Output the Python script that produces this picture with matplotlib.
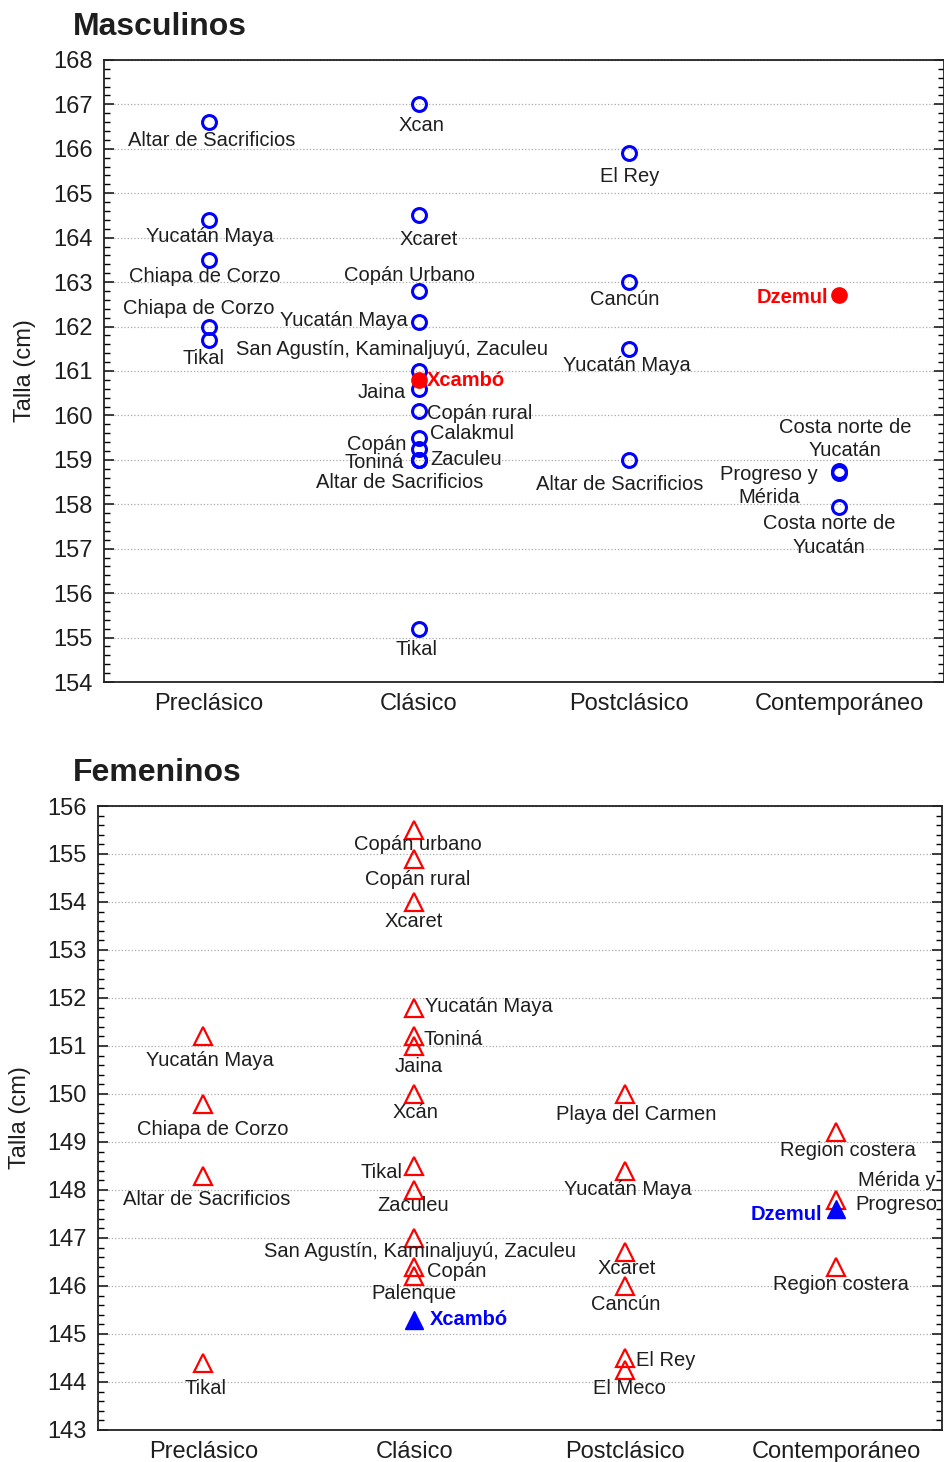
import matplotlib
matplotlib.use("Agg")
import matplotlib.pyplot as plt
from matplotlib.ticker import MultipleLocator

plt.rcParams['font.family'] = ['Liberation Sans', 'DejaVu Sans']

periodos = ["Preclásico", "Clásico", "Postclásico", "Contemporáneo"]

# Masculinos
masc_periodo = ["Preclásico"] * 5 + ["Clásico"] * 13 + ["Postclásico"] * 4 + ["Contemporáneo"] * 3
masc_talla = [166.6, 164.4, 163.5, 162.0, 161.7,
              167.0, 164.5, 162.8, 162.1, 161.0, 160.6, 160.1, 159.5, 159.25, 159.0, 159.0, 159.0, 155.2,
              165.9, 163.0, 161.5, 159.0,
              158.75, 158.7, 157.95]
masc_sitio = ["Altar de Sacrificios", "Yucatán Maya", "Chiapa de Corzo", "Chiapa de Corzo", "Tikal",
              "Xcan", "Xcaret", "Copán Urbano", "Yucatán Maya", "San Agustín, Kaminaljuyú, Zaculeu",
              "Jaina", "Copán rural", "Calakmul", "Copán", "Toniná", "Zaculeu", "Altar de Sacrificios", "Tikal",
              "El Rey", "Cancún", "Yucatán Maya", "Altar de Sacrificios",
              "Costa norte de\nYucatán", "Progreso y\nMérida", "Costa norte de\nYucatán"]
masc_foco_periodo = ["Clásico", "Contemporáneo"]
masc_foco_talla = [160.8, 162.7]
masc_foco_sitio = ["Xcambó", "Dzemul"]

# Femeninos
fem_periodo = ["Preclásico"] * 4 + ["Clásico"] * 12 + ["Postclásico"] * 6 + ["Contemporáneo"] * 3
fem_talla = [151.2, 149.8, 148.3, 144.4,
             155.5, 154.9, 154.0, 151.8, 151.2, 151.0, 150.0, 148.5, 148.0, 147.0, 146.4, 146.2,
             150.0, 148.4, 146.7, 146.0, 144.5, 144.25,
             149.2, 147.8, 146.4]
fem_sitio = ["Yucatán Maya", "Chiapa de Corzo", "Altar de Sacrificios", "Tikal",
             "Copán urbano", "Copán rural", "Xcaret", "Yucatán Maya", "Toniná", "Jaina", "Xcán",
             "Tikal", "Zaculeu", "San Agustín, Kaminaljuyú, Zaculeu", "Copán", "Palenque",
             "Playa del Carmen", "Yucatán Maya", "Xcaret", "Cancún", "El Rey", "El Meco",
             "Region costera", "Mérida y\nProgreso", "Region costera"]
fem_foco_periodo = ["Clásico", "Contemporáneo"]
fem_foco_talla = [145.3, 147.6]
fem_foco_sitio = ["Xcambó", "Dzemul"]

# label placement (pixel offsets from marker, alignment)
masc_lbl = [(3, 18, "center"), (1, 17, "center"), (-4, 17, "center"), (-10, -18, "center"), (-5, 19, "center"),
            (2, 21, "center"), (10, 24, "center"), (-9, -16, "center"), (-11, -2, "right"), (-27, -21, "center"),
            (-13, 4, "right"), (8, 3, "left"), (11, -4, "left"), (-13, -4, "right"), (-15, 3, "right"),
            (11, 0, "left"), (-19, 23, "center"), (-2, 21, "center"),
            (1, 23, "center"), (-4, 17, "center"), (-2, 17, "center"), (-9, 25, "center"),
            (6, -32, "center"), (-70, 13, "center"), (-10, 29, "center")]
masc_foco_lbl = [(8, 1, "left"), (-11, 2, "right")]
fem_lbl = [(6, 24, "center"), (9, 26, "center"), (3, 24, "center"), (2, 26, "center"),
           (3, 15, "center"), (3, 21, "center"), (-1, 20, "center"), (11, -1, "left"), (9, 3, "left"),
           (4, 21, "center"), (1, 19, "center"), (-12, 7, "right"), (-1, 16, "center"), (6, 14, "center"),
           (13, 5, "left"), (-1, 17, "center"),
           (11, 21, "center"), (2, 19, "center"), (1, 16, "center"), (0, 19, "center"), (11, 3, "left"),
           (4, 19, "center"),
           (12, 18, "center"), (19, -7, "left"), (5, 18, "center")]
fem_foco_lbl = [(15, 0, "left"), (-14, 5, "right")]

TXT = "#1e1e1e"
PX = 0.72  # points per pixel at 100 dpi


def etiquetar(ax, periodo, talla, sitio, lbl, color=TXT, weight="normal"):
    for p, t, s, (dx, dy, ha) in zip(periodo, talla, sitio, lbl):
        ax.annotate(s, (p, t), xytext=(dx * PX, -dy * PX), textcoords="offset points",
                    ha=ha, va="center", fontsize=14.5, color=color, fontweight=weight,
                    multialignment="center", linespacing=1.3)


def estilo(ax, ymin, ymax):
    ax.set_xlim(-0.5, 3.5)
    ax.set_ylim(ymin, ymax)
    ax.yaxis.set_major_locator(MultipleLocator(1))
    ax.yaxis.set_minor_locator(MultipleLocator(0.2))
    ax.tick_params(axis="y", which="major", direction="in", length=7, width=1.2,
                   labelsize=17, colors=TXT, right=True, pad=8)
    ax.tick_params(axis="y", which="minor", direction="in", length=4, width=1, right=True)
    ax.tick_params(axis="x", length=0, labelsize=17, colors=TXT, pad=8)
    ax.grid(axis="y", which="major", linestyle=":", color="#aaaaaa", linewidth=0.9)
    for sp in ax.spines.values():
        sp.set_linewidth(1.3)
        sp.set_color("#222222")


fig = plt.figure(figsize=(9.45, 14.62), dpi=100)

ax1 = fig.add_axes([0.110, 0.5335, 0.889, 0.4255])
ax1.plot(periodos, [float("nan")] * 4, linestyle="none")
ax1.plot(masc_periodo, masc_talla, "o", linestyle="none", markersize=10,
         markerfacecolor="none", markeredgecolor="blue", markeredgewidth=2.2, zorder=3)
ax1.plot(masc_foco_periodo, masc_foco_talla, "o", linestyle="none", markersize=11,
         color="red", zorder=4)
estilo(ax1, 154, 168)
etiquetar(ax1, masc_periodo, masc_talla, masc_sitio, masc_lbl)
etiquetar(ax1, masc_foco_periodo, masc_foco_talla, masc_foco_sitio, masc_foco_lbl,
          color="red", weight="bold")

ax2 = fig.add_axes([0.1037, 0.0219, 0.893, 0.4268])
ax2.plot(periodos, [float("nan")] * 4, linestyle="none")
ax2.plot(fem_periodo, fem_talla, "^", linestyle="none", markersize=13.5,
         markerfacecolor="none", markeredgecolor="red", markeredgewidth=1.6, zorder=3)
ax2.plot(fem_foco_periodo, fem_foco_talla, "^", linestyle="none", markersize=13.5,
         color="blue", zorder=4)
estilo(ax2, 143, 156)
etiquetar(ax2, fem_periodo, fem_talla, fem_sitio, fem_lbl)
etiquetar(ax2, fem_foco_periodo, fem_foco_talla, fem_foco_sitio, fem_foco_lbl,
          color="blue", weight="bold")

fig.text(73 / 945, 1 - 27 / 1462, "Masculinos", fontsize=23, fontweight="bold", color=TXT, va="center")
fig.text(73 / 945, 1 - 773 / 1462, "Femeninos", fontsize=23, fontweight="bold", color=TXT, va="center")
fig.text(25 / 945, 1 - 371 / 1462, "Talla (cm)", fontsize=17, color=TXT, rotation=90, ha="center", va="center")
fig.text(20 / 945, 1 - 1118 / 1462, "Talla (cm)", fontsize=17, color=TXT, rotation=90, ha="center", va="center")

fig.savefig("out.png", dpi=100)
